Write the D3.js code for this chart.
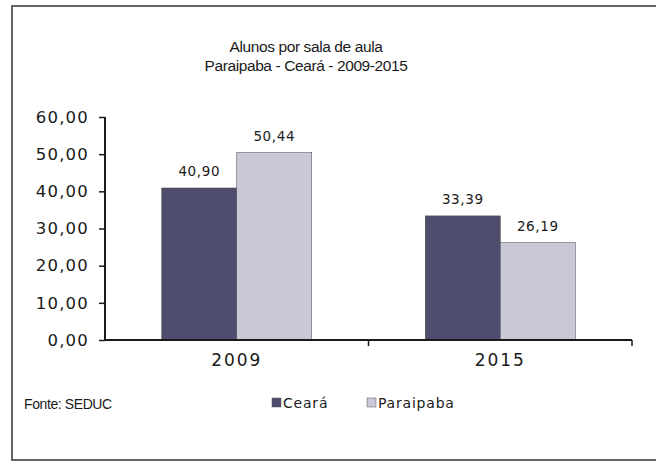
<!DOCTYPE html>
<html>
<meta charset="utf-8">
<script src="https://cdn.jsdelivr.net/npm/d3@7"></script>
<style>
  body { margin: 0; background: #fff; }
  svg text { fill: #1a1a1a; }
</style>
<body>
<div id="chart"></div>
</body>
<script>

// data
var years = ["2009", "2015"];
var series = ["Ceará", "Paraipaba"];
var ceara = [40.90, 33.39];
var paraipaba = [50.44, 26.19];
var yTicks = [0, 10, 20, 30, 40, 50, 60];
var colors = ["#4e4d6e", "#c9c8d8"];

var W = 656, H = 464;
var plotL = 105, plotR = 632, plotT = 117, plotB = 340;

var svg = d3.select("#chart")
  .append("svg")
    .attr("width", W)
    .attr("height", H);

// outer frame (runs off the right edge like the scan)
svg.append("rect")
  .attr("x", 12).attr("y", 6)
  .attr("width", W + 10).attr("height", 454)
  .attr("fill", "none")
  .attr("stroke", "#333")
  .attr("stroke-width", 1.5);

// title
svg.append("text")
  .attr("x", 306).attr("y", 52)
  .attr("text-anchor", "middle")
  .style("font-family", "Liberation Sans, Arial, sans-serif")
  .style("font-size", "15.5px")
  .style("letter-spacing", "-0.4px")
  .text("Alunos por sala de aula");
svg.append("text")
  .attr("x", 306).attr("y", 71)
  .attr("text-anchor", "middle")
  .style("font-family", "Liberation Sans, Arial, sans-serif")
  .style("font-size", "15.5px")
  .style("letter-spacing", "-0.4px")
  .text("Paraipaba  - Ceará - 2009-2015");

var fmt = function(v) { return d3.format(".2f")(v).replace(".", ","); };

// scales
var x = d3.scaleBand()
  .domain(years)
  .range([plotL, plotR]);

var groupW = 150;
var x1 = d3.scaleBand()
  .domain(series)
  .range([(x.bandwidth() - groupW) / 2, (x.bandwidth() + groupW) / 2]);

var y = d3.scaleLinear()
  .domain([0, 60])
  .range([plotB, plotT]);

// bars
var rows = years.map(function(yr, i) {
  return { year: yr, vals: [ { s: series[0], v: ceara[i] }, { s: series[1], v: paraipaba[i] } ] };
});

var g = svg.selectAll(".grp")
  .data(rows)
  .enter()
  .append("g")
    .attr("transform", function(d) { return "translate(" + x(d.year) + ",0)"; });

g.selectAll("rect")
  .data(function(d) { return d.vals; })
  .enter()
  .append("rect")
    .attr("x", function(d) { return x1(d.s); })
    .attr("y", function(d) { return y(d.v); })
    .attr("width", x1.bandwidth())
    .attr("height", function(d) { return plotB - y(d.v); })
    .attr("fill", function(d, i) { return colors[i]; })
    .attr("stroke", "#444")
    .attr("stroke-width", 0.5);

// value labels
g.selectAll(".lbl")
  .data(function(d) { return d.vals; })
  .enter()
  .append("text")
    .attr("x", function(d) { return x1(d.s) + x1.bandwidth() / 2; })
    .attr("y", function(d) { return y(d.v) - 12; })
    .attr("text-anchor", "middle")
    .style("font-family", "DejaVu Sans, sans-serif")
    .style("font-size", "13.5px")
    .style("letter-spacing", "0.6px")
    .text(function(d) { return fmt(d.v); });

// y axis
var yAxis = svg.append("g")
  .attr("transform", "translate(" + plotL + ",0)")
  .call(d3.axisLeft(y).tickValues(yTicks).tickSize(6).tickPadding(10).tickFormat(fmt));
yAxis.select(".domain").attr("stroke", "#1a1a1a").attr("stroke-width", 2).attr("d", "M0," + plotT + "V" + plotB);
yAxis.selectAll(".tick line").attr("stroke", "#1a1a1a").attr("stroke-width", 1.5);
yAxis.selectAll(".tick text")
  .style("font-family", "DejaVu Sans, sans-serif")
  .style("font-size", "16.5px")
  .style("letter-spacing", "1.2px")
  .attr("fill", "#1a1a1a");

// x axis: line plus tick marks between categories
var xAxis = svg.append("g")
  .attr("transform", "translate(0," + plotB + ")")
  .call(d3.axisBottom(x).tickSize(0).tickPadding(14));
xAxis.select(".domain").attr("stroke", "#1a1a1a").attr("stroke-width", 2).attr("d", "M" + plotL + ",0H" + plotR);
xAxis.selectAll(".tick text")
  .style("font-family", "DejaVu Sans, sans-serif")
  .style("font-size", "17px")
  .style("letter-spacing", "2px")
  .attr("fill", "#1a1a1a");

var edges = years.map(function(yr) { return x(yr) + x.bandwidth(); });
xAxis.selectAll(".edge")
  .data(edges)
  .enter()
  .append("line")
    .attr("x1", function(d) { return d; })
    .attr("x2", function(d) { return d; })
    .attr("y1", 0).attr("y2", 6)
    .attr("stroke", "#1a1a1a")
    .attr("stroke-width", 1.5);

// source note
svg.append("text")
  .attr("x", 24).attr("y", 409)
  .style("font-family", "Liberation Sans Narrow, Liberation Sans, sans-serif")
  .style("font-size", "14px")
  .style("letter-spacing", "-0.4px")
  .text("Fonte: SEDUC");

// legend
var legX = [272, 367];
var leg = svg.selectAll(".leg")
  .data(series)
  .enter()
  .append("g")
    .attr("transform", function(d, i) { return "translate(" + legX[i] + ",398)"; });
leg.append("rect")
  .attr("width", 9).attr("height", 9)
  .attr("fill", function(d, i) { return colors[i]; })
  .attr("stroke", "#555")
  .attr("stroke-width", 0.5);
leg.append("text")
  .attr("x", 11).attr("y", 10)
  .style("font-family", "DejaVu Sans, sans-serif")
  .style("font-size", "14px")
  .style("letter-spacing", "0.8px")
  .text(function(d) { return d; });

</script>
</html>
